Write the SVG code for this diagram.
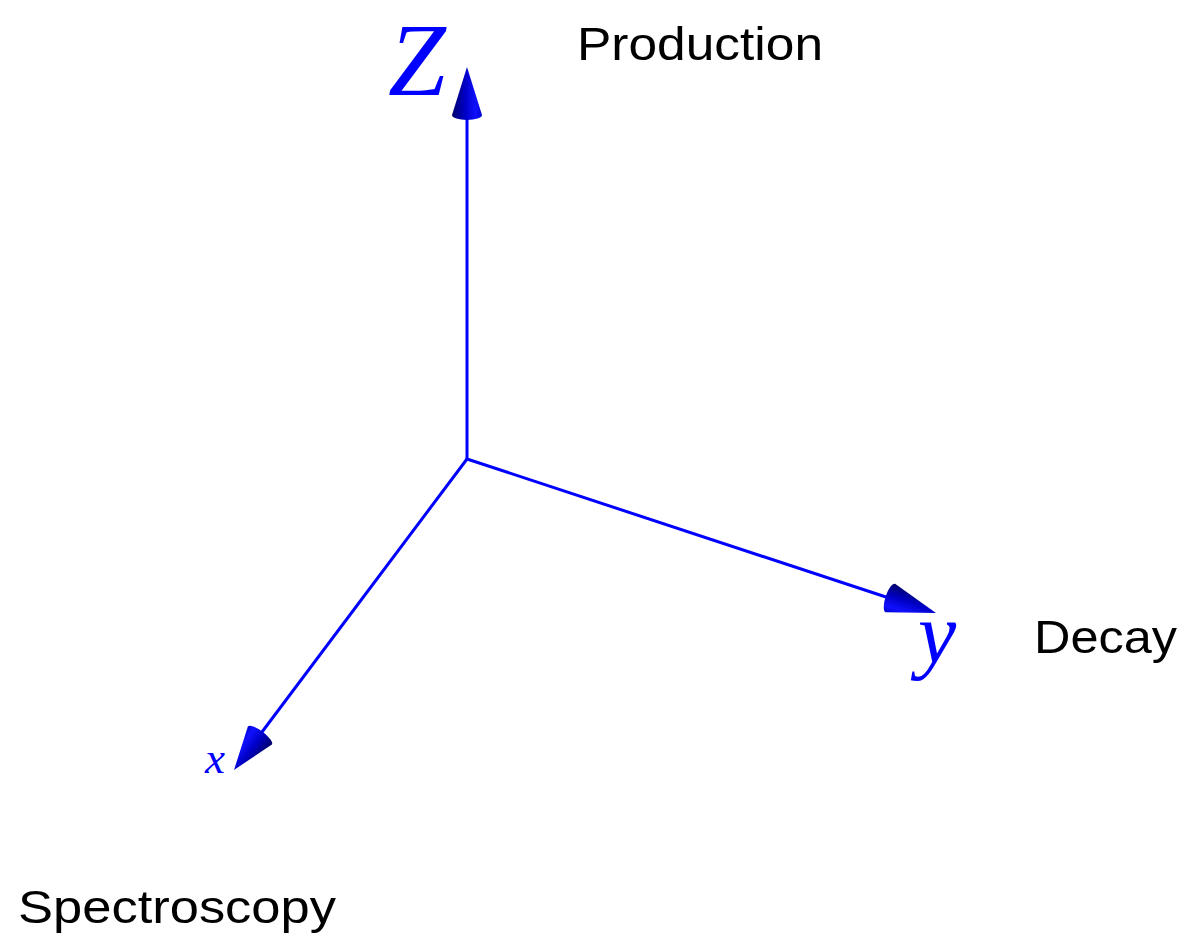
<svg xmlns="http://www.w3.org/2000/svg" width="1195" height="945" viewBox="0 0 1195 945">
<style>
.axis{stroke:#0000ff;stroke-width:3;fill:none;stroke-linecap:round}
.math{font-family:"Liberation Serif","DejaVu Serif",serif;font-style:italic;fill:#0000ff}
.lbl{font-family:"Liberation Sans","DejaVu Sans",sans-serif;font-size:46px;fill:#000}
</style>
<defs>
<linearGradient id="cg" x1="0" y1="0" x2="0" y2="1">
<stop offset="0" stop-color="#00006a"/>
<stop offset="0.45" stop-color="#0000c8"/>
<stop offset="0.8" stop-color="#1010ff"/>
<stop offset="1" stop-color="#0000d0"/>
</linearGradient>
<path id="cone" d="M0,0 L-48,-15 A5,15 0 0 0 -48,15 Z" fill="url(#cg)"/>
</defs>
<g id="connectors">
<line class="axis" x1="467" y1="459" x2="467" y2="112"/>
<line class="axis" x1="467" y1="459" x2="886" y2="597"/>
<line class="axis" x1="467" y1="459" x2="262" y2="732"/>
</g>
<g id="z-axis">
<use href="#cone" transform="translate(467,67) rotate(-90)"/>
<text class="math" x="388" y="95" font-size="104">Z</text>
</g>
<g id="y-axis">
<use href="#cone" transform="translate(936,613) rotate(18.2)"/>
<text class="math" x="918" y="662" font-size="86">y</text>
</g>
<g id="x-axis">
<use href="#cone" transform="translate(234,770) rotate(126.8) scale(0.9,1)"/>
<text class="math" x="205" y="773" font-size="45">x</text>
</g>
<g id="production"><text class="lbl" x="577" y="60" textLength="246" lengthAdjust="spacingAndGlyphs">Production</text></g>
<g id="decay"><text class="lbl" x="1034" y="653" textLength="143" lengthAdjust="spacingAndGlyphs">Decay</text></g>
<g id="spectroscopy"><text class="lbl" x="18" y="923" textLength="318" lengthAdjust="spacingAndGlyphs">Spectroscopy</text></g>
</svg>
